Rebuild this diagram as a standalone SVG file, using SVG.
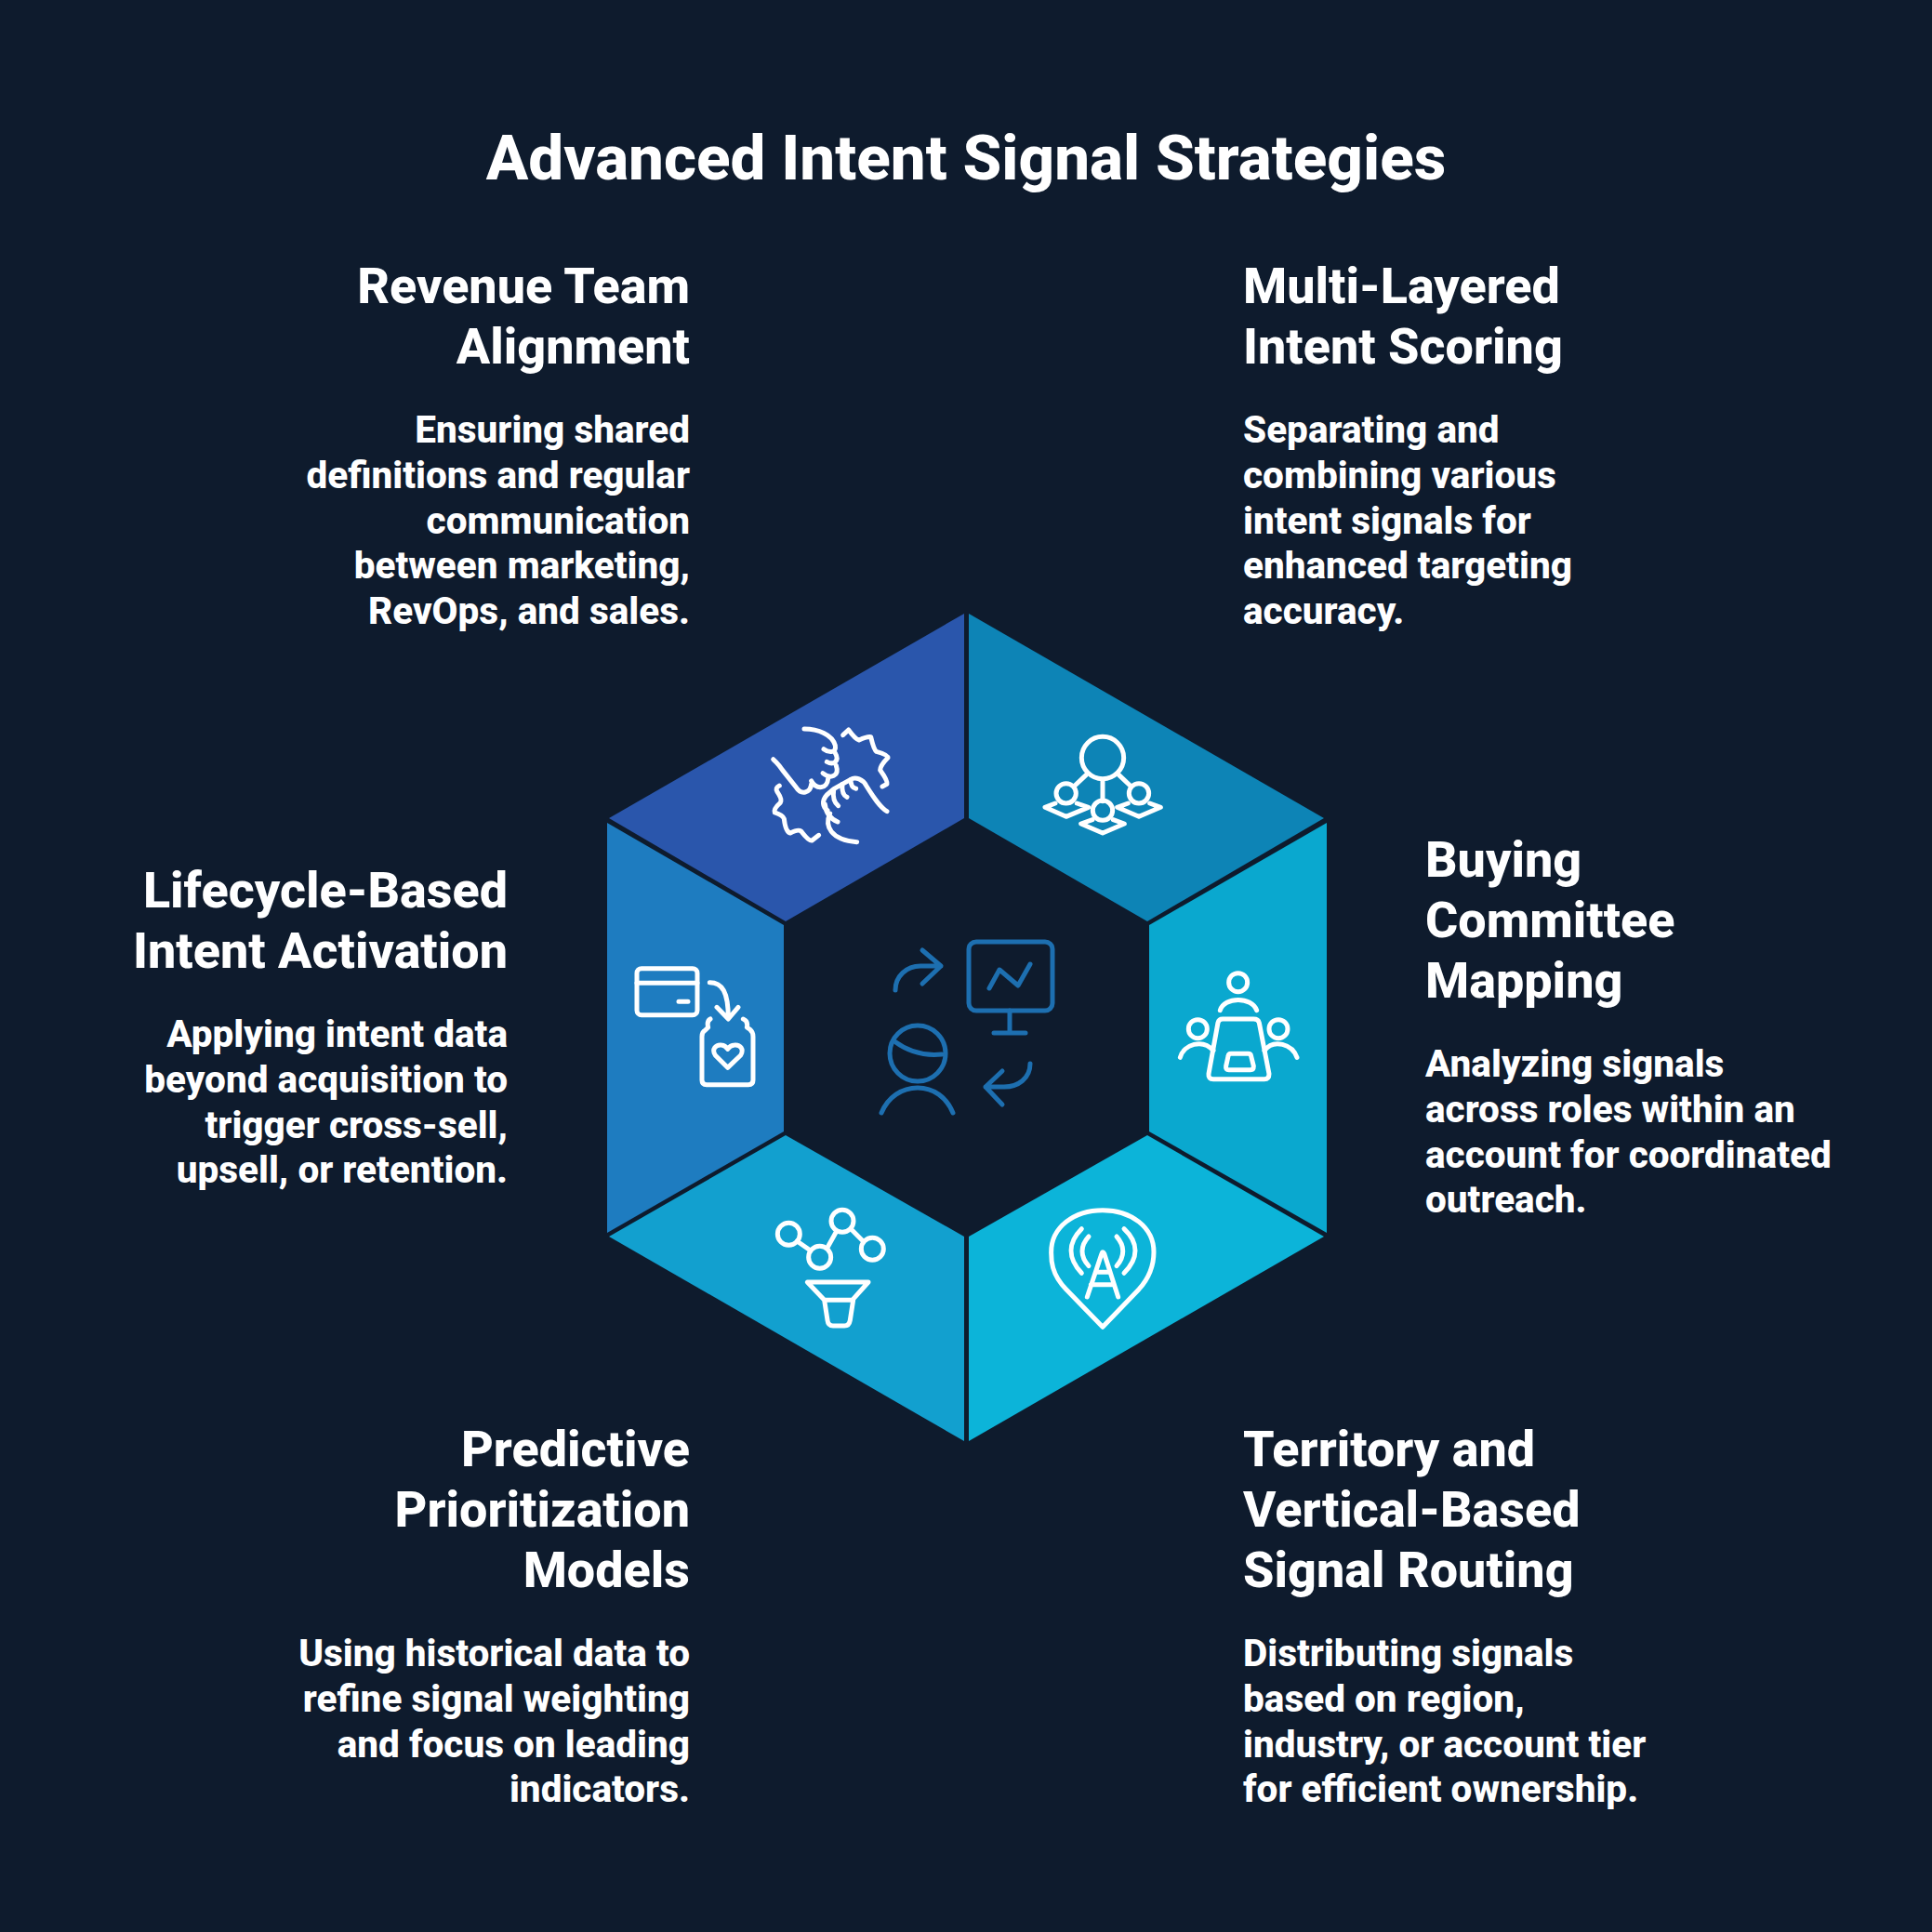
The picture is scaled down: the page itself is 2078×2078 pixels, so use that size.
<svg xmlns="http://www.w3.org/2000/svg" width="2078" height="2078" viewBox="0 0 2078 2078">
<style>
text{font-family:Roboto,"Liberation Sans",sans-serif;fill:#fff}
.t{font-size:67.4px;font-weight:800;text-anchor:middle}
.h{font-size:53.9px;font-weight:800}
.b{font-size:40.5px;font-weight:800}
.e{text-anchor:end}
.i{fill:none;stroke:#fff;stroke-width:15;stroke-linecap:round;stroke-linejoin:round}
.c{fill:none;stroke:#1d6fb0;stroke-width:5;stroke-linecap:round;stroke-linejoin:round}
</style>
<rect width="2078" height="2078" fill="#0e1b2d"/>
<text class="t" x="1039" y="193">Advanced Intent Signal Strategies</text>

<g id="center">
<g class="c">
<rect x="1042" y="1013" width="90" height="74" rx="8"/>
<path d="M1086 1087V1111M1069 1111H1103"/>
<path d="M1064 1063L1075 1043L1095 1060L1108 1037"/>
<path d="M963 1065C963 1050 975 1039 990 1039H1012M992 1022L1012 1039L992 1058"/>
<circle cx="987" cy="1133" r="30"/>
<path d="M962 1120Q985 1137 1013 1134"/>
<path d="M948 1197C955 1180 970 1170 987 1170C1004 1170 1018 1180 1025 1197"/>
<path d="M1108 1144C1108 1160 1095 1169 1080 1169H1060M1078 1152L1060 1169L1078 1188"/>
</g>
</g>

<g id="revenue-team">
<polygon points="1037,660 1037,880 845,991 655,880" fill="#2a56ac"/>
<g class="i" transform="translate(800 760) scale(.3333)">
<path d="M195 72C240 72 285 90 295 125C300 150 275 150 258 137M295 150C310 175 290 190 268 178M298 190C310 225 280 235 255 215M272 232C270 265 235 270 218 240M218 250C215 280 185 285 170 262L125 205Q115 190 105 180L95 170"/>
<path d="M462 338C440 325 420 295 395 255C385 235 360 225 345 235L318 250L290 266L268 285C250 305 255 325 270 335M345 235Q345 262 362 265M318 250Q315 285 333 292M290 268Q285 305 305 320M262 315Q265 355 303 372M278 345C260 385 280 430 365 437"/>
<path d="M115 255Q100 262 108 275Q125 300 118 310Q95 330 100 342Q125 350 130 362Q135 405 150 408Q175 395 185 402Q210 435 220 432L242 415"/>
<path d="M320 92L338 75Q360 105 372 108Q400 95 410 98Q420 140 428 145Q465 155 465 165Q440 190 440 205Q465 240 462 250L447 258"/>
</g>
<text class="h e"><tspan x="742" y="326">Revenue Team</tspan><tspan x="742" y="391">Alignment</tspan></text>
<text class="b e"><tspan x="742" y="476">Ensuring shared</tspan><tspan x="742" y="525">definitions and regular</tspan><tspan x="742" y="574">communication</tspan><tspan x="742" y="622">between marketing,</tspan><tspan x="742" y="671">RevOps, and sales.</tspan></text>
</g>

<g id="multi-layered">
<polygon points="1042,660 1424,880 1234,991 1042,880" fill="#0d84b6"/>
<g class="i" transform="translate(1100 770) scale(.3333)">
<circle cx="258" cy="135" r="68"/><circle cx="140" cy="250" r="32"/><circle cx="258" cy="305" r="32"/><circle cx="375" cy="250" r="32"/>
<path d="M205 190L165 228M258 205V275M310 190L350 228"/>
<path d="M105 282L72 295L140 325L212 295L175 282M225 335L188 348L258 378L328 348L292 335M340 282L305 295L375 325L445 295L410 282"/>
</g>
<text class="h"><tspan x="1337" y="326">Multi-Layered</tspan><tspan x="1337" y="391">Intent Scoring</tspan></text>
<text class="b"><tspan x="1337" y="476">Separating and</tspan><tspan x="1337" y="525">combining various</tspan><tspan x="1337" y="574">intent signals for</tspan><tspan x="1337" y="622">enhanced targeting</tspan><tspan x="1337" y="671">accuracy.</tspan></text>
</g>

<g id="buying-committee">
<polygon points="1427,885 1427,1326 1236,1217 1236,995" fill="#0aa8cf"/>
<g class="i" transform="translate(1250 1030) scale(.3333)">
<circle cx="245" cy="80" r="30"/><path d="M187 170C200 125 290 125 305 170"/>
<path d="M195 198H295Q310 198 313 210L345 375Q345 392 330 392H165Q148 392 150 375L180 210Q183 198 195 198Z"/>
<path d="M222 310H278Q286 310 287 318L295 350Q295 362 285 362H215Q204 362 206 350L213 318Q214 310 222 310Z"/>
<circle cx="115" cy="230" r="30"/><path d="M58 322C70 280 130 260 165 300"/>
<circle cx="375" cy="230" r="30"/><path d="M435 322C420 280 360 260 330 300"/>
</g>
<text class="h"><tspan x="1533" y="943">Buying</tspan><tspan x="1533" y="1008">Committee</tspan><tspan x="1533" y="1073">Mapping</tspan></text>
<text class="b"><tspan x="1533" y="1158">Analyzing signals</tspan><tspan x="1533" y="1207">across roles within an</tspan><tspan x="1533" y="1256">account for coordinated</tspan><tspan x="1533" y="1304">outreach.</tspan></text>
</g>

<g id="territory">
<polygon points="1042,1330 1234,1221 1424,1330 1042,1550" fill="#0cb4d9"/>
<g class="i" transform="translate(1110 1280) scale(.3333)">
<path d="M228 442L110 320C60 270 62 220 62 200C62 120 135 65 228 65C320 65 393 120 393 200C393 225 390 270 345 320Z"/>
<path d="M178 345L225 205Q228 195 233 205L278 345M205 265H250M190 305H265"/>
<path d="M160 125C115 170 115 220 160 268M183 150C155 180 155 215 183 245M297 125C345 170 345 220 297 268M273 150C300 180 300 215 273 245"/>
</g>
<text class="h"><tspan x="1337" y="1577">Territory and</tspan><tspan x="1337" y="1642">Vertical-Based</tspan><tspan x="1337" y="1707">Signal Routing</tspan></text>
<text class="b"><tspan x="1337" y="1792">Distributing signals</tspan><tspan x="1337" y="1841">based on region,</tspan><tspan x="1337" y="1890">industry, or account tier</tspan><tspan x="1337" y="1938">for efficient ownership.</tspan></text>
</g>

<g id="predictive">
<polygon points="1037,1330 1037,1550 655,1330 845,1221" fill="#12a0cf"/>
<g class="i" transform="translate(820 1280) scale(.3333)">
<circle cx="85" cy="142" r="36"/><circle cx="185" cy="217" r="36"/><circle cx="258" cy="100" r="36"/><circle cx="355" cy="190" r="36"/>
<path d="M112 165L155 195M210 185L238 135M290 130L325 165"/>
<path d="M145 297H342L290 355H200ZM200 355L210 420Q212 438 228 438H265Q280 438 283 420L293 355"/>
</g>
<text class="h e"><tspan x="742" y="1577">Predictive</tspan><tspan x="742" y="1642">Prioritization</tspan><tspan x="742" y="1707">Models</tspan></text>
<text class="b e"><tspan x="742" y="1792">Using historical data to</tspan><tspan x="742" y="1841">refine signal weighting</tspan><tspan x="742" y="1890">and focus on leading</tspan><tspan x="742" y="1938">indicators.</tspan></text>
</g>

<g id="lifecycle">
<polygon points="653,885 843,995 843,1217 653,1326" fill="#1e7cc0"/>
<g class="i" transform="translate(670 1020) scale(.3333)">
<rect x="45" y="65" width="195" height="150" rx="15"/>
<path d="M45 112H240M180 172H210"/>
<path d="M280 110C320 110 340 140 340 225M303 190L340 228L372 190"/>
<path d="M282 228Q270 235 275 255L265 265Q255 270 255 285V425Q255 440 270 440H405Q420 440 420 425V285Q420 270 410 262L400 255Q405 235 388 228"/>
<path d="M338 385L298 345C285 325 300 310 318 312Q330 313 338 325Q346 313 360 312C378 310 392 325 380 345Z"/>
</g>
<text class="h e"><tspan x="546" y="976">Lifecycle-Based</tspan><tspan x="546" y="1041">Intent Activation</tspan></text>
<text class="b e"><tspan x="546" y="1126">Applying intent data</tspan><tspan x="546" y="1175">beyond acquisition to</tspan><tspan x="546" y="1224">trigger cross-sell,</tspan><tspan x="546" y="1272">upsell, or retention.</tspan></text>
</g>
</svg>
